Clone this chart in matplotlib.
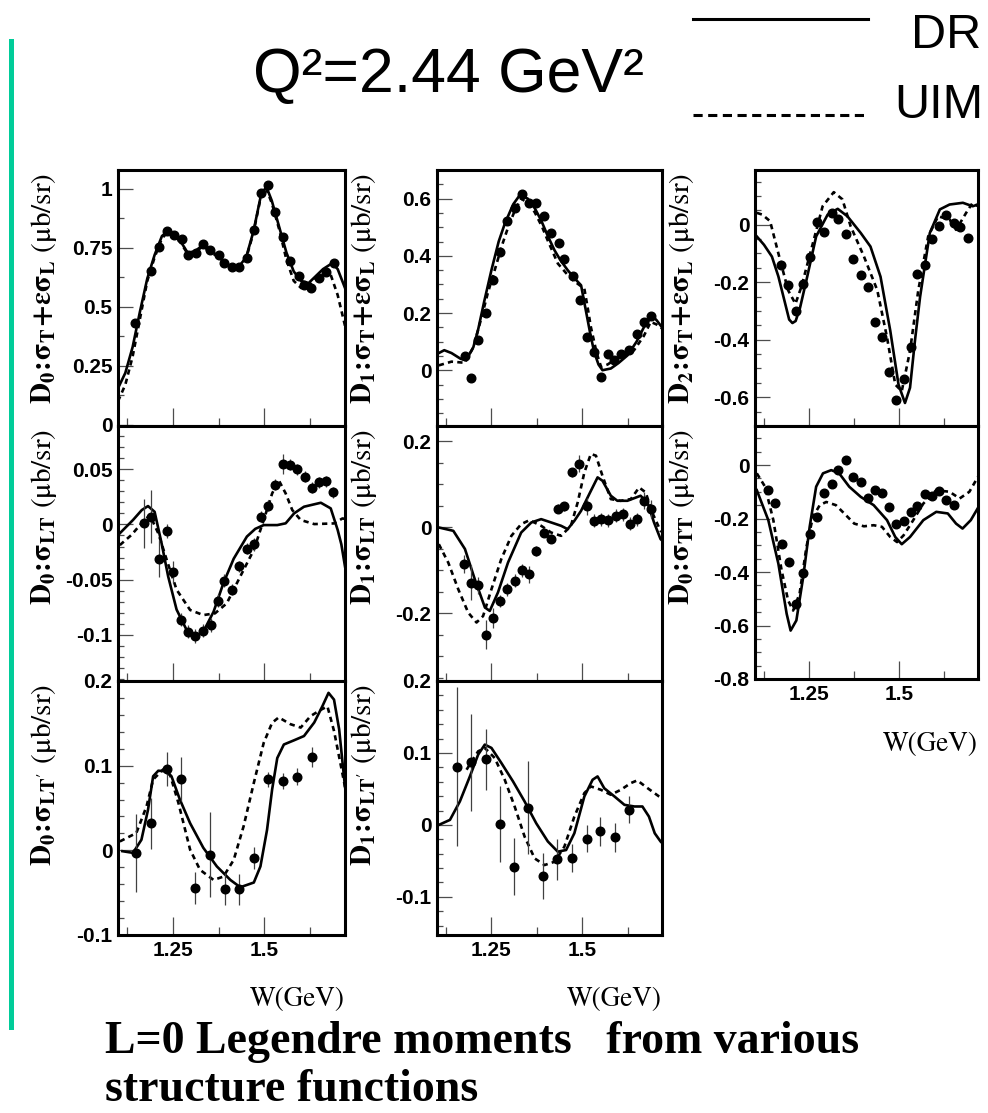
import matplotlib as mpl
mpl.use('Agg')
import matplotlib.pyplot as plt
from matplotlib.lines import Line2D
from matplotlib.patches import Rectangle
from matplotlib.ticker import MultipleLocator, FixedLocator, FuncFormatter

plt.rcParams['mathtext.fontset'] = 'stix'
plt.rcParams['axes.unicode_minus'] = False
plt.rcParams['font.family'] = ['Liberation Sans', 'DejaVu Sans']
plt.rcParams['font.weight'] = 'bold'

# ---- D0 : sigma_T + eps sigma_L
d0tl_w = [1.146, 1.191, 1.212, 1.233, 1.253, 1.274, 1.292, 1.312, 1.331, 1.352, 1.375, 1.390, 1.411, 1.431,
          1.451, 1.471, 1.491, 1.510, 1.530, 1.551, 1.571, 1.593, 1.608, 1.628, 1.649, 1.667, 1.689]
d0tl_y = [0.433, 0.652, 0.752, 0.821, 0.804, 0.786, 0.719, 0.730, 0.766, 0.740, 0.719, 0.687, 0.667, 0.670,
          0.709, 0.826, 0.984, 1.017, 0.904, 0.797, 0.695, 0.630, 0.591, 0.582, 0.624, 0.648, 0.687]
d0tl_dr_w = [1.10, 1.12, 1.14, 1.16, 1.18, 1.20, 1.22, 1.235, 1.25, 1.27, 1.29, 1.31, 1.33, 1.35, 1.37, 1.39, 1.41,
             1.43, 1.45, 1.47, 1.49, 1.505, 1.52, 1.54, 1.56, 1.58, 1.60, 1.62, 1.64, 1.66, 1.685, 1.70, 1.72]
d0tl_dr = [0.155, 0.22, 0.33, 0.48, 0.62, 0.72, 0.80, 0.82, 0.80, 0.78, 0.73, 0.735, 0.76, 0.74, 0.72, 0.69, 0.67,
           0.67, 0.71, 0.82, 0.97, 1.01, 0.95, 0.84, 0.73, 0.65, 0.61, 0.60, 0.63, 0.66, 0.685, 0.66, 0.58]
d0tl_uim_w = [1.10, 1.12, 1.14, 1.16, 1.18, 1.20, 1.22, 1.235, 1.25, 1.27, 1.29, 1.31, 1.33, 1.35, 1.37, 1.39, 1.41,
              1.43, 1.45, 1.47, 1.49, 1.505, 1.52, 1.54, 1.56, 1.58, 1.60, 1.62, 1.64, 1.66, 1.68, 1.70, 1.72]
d0tl_uim = [0.10, 0.17, 0.29, 0.45, 0.61, 0.71, 0.79, 0.815, 0.80, 0.775, 0.725, 0.73, 0.755, 0.735, 0.715, 0.685,
            0.665, 0.665, 0.705, 0.815, 0.965, 1.0, 0.94, 0.83, 0.70, 0.61, 0.58, 0.59, 0.62, 0.64, 0.64, 0.55, 0.42]

# ---- D1 : sigma_T + eps sigma_L
d1tl_w = [1.177, 1.193, 1.213, 1.235, 1.255, 1.273, 1.294, 1.314, 1.334, 1.353, 1.373, 1.394, 1.415, 1.435,
          1.451, 1.474, 1.494, 1.512, 1.533, 1.552, 1.570, 1.588, 1.608, 1.629, 1.650, 1.670, 1.691]
d1tl_y = [0.050, -0.026, 0.107, 0.200, 0.315, 0.414, 0.522, 0.567, 0.617, 0.586, 0.586, 0.539, 0.481, 0.445,
          0.390, 0.329, 0.247, 0.117, 0.064, -0.023, 0.055, 0.037, 0.056, 0.070, 0.128, 0.169, 0.190]
d1tl_dr_w = [1.105, 1.12, 1.14, 1.165, 1.18, 1.20, 1.213, 1.23, 1.25, 1.27, 1.287, 1.31, 1.328, 1.35, 1.37, 1.387,
             1.405, 1.424, 1.44, 1.46, 1.48, 1.497, 1.51, 1.522, 1.533, 1.545, 1.556, 1.579, 1.60, 1.625, 1.65,
             1.67, 1.693, 1.705, 1.72]
d1tl_dr = [0.06, 0.07, 0.06, 0.04, 0.035, 0.08, 0.14, 0.24, 0.35, 0.45, 0.513, 0.58, 0.612, 0.60, 0.565, 0.524,
           0.47, 0.419, 0.385, 0.35, 0.32, 0.297, 0.21, 0.13, 0.064, 0.02, 0.0, 0.006, 0.025, 0.052, 0.10,
           0.15, 0.19, 0.175, 0.15]
d1tl_uim_w = [1.105, 1.14, 1.177, 1.20, 1.223, 1.24, 1.259, 1.28, 1.296, 1.315, 1.332, 1.35, 1.369, 1.39, 1.405,
              1.433, 1.469, 1.506, 1.515, 1.524, 1.54, 1.552, 1.57, 1.588, 1.615, 1.643, 1.67, 1.689, 1.705, 1.72]
d1tl_uim = [0.017, 0.03, 0.026, 0.08, 0.186, 0.27, 0.35, 0.44, 0.50, 0.56, 0.60, 0.585, 0.553, 0.50, 0.454,
            0.373, 0.32, 0.285, 0.22, 0.151, 0.06, 0.012, 0.02, 0.035, 0.05, 0.07, 0.12, 0.169, 0.16, 0.146]

# ---- D2 : sigma_T + eps sigma_L
d2tl_w = [1.172, 1.192, 1.213, 1.234, 1.254, 1.273, 1.293, 1.313, 1.332, 1.353, 1.373, 1.394, 1.414, 1.433,
          1.453, 1.473, 1.493, 1.513, 1.533, 1.551, 1.572, 1.592, 1.612, 1.632, 1.652, 1.671, 1.691]
d2tl_y = [-0.140, -0.211, -0.301, -0.205, -0.113, 0.009, -0.026, 0.041, 0.018, -0.032, -0.120, -0.175, -0.216,
          -0.339, -0.389, -0.511, -0.611, -0.535, -0.427, -0.172, -0.140, -0.049, -0.004, 0.032, 0.006, -0.008,
          -0.047]
d2tl_dr_w = [1.105, 1.125, 1.147, 1.165, 1.183, 1.195, 1.204, 1.213, 1.225, 1.243, 1.27, 1.302, 1.33, 1.357, 1.394,
             1.421, 1.449, 1.476, 1.499, 1.517, 1.531, 1.545, 1.559, 1.586, 1.614, 1.641, 1.678, 1.705, 1.72]
d2tl_dr = [-0.041, -0.07, -0.111, -0.18, -0.27, -0.33, -0.342, -0.335, -0.29, -0.193, -0.041, 0.035, 0.055, 0.029,
           -0.029, -0.076, -0.181, -0.368, -0.556, -0.62, -0.567, -0.40, -0.251, -0.029, 0.053, 0.07, 0.076,
           0.064, 0.07]
d2tl_uim_w = [1.105, 1.12, 1.142, 1.165, 1.192, 1.2125, 1.229, 1.256, 1.288, 1.319, 1.343, 1.366, 1.403, 1.44,
              1.467, 1.49, 1.508, 1.531, 1.554, 1.5815, 1.609, 1.641, 1.659, 1.687, 1.705, 1.72]
d2tl_uim = [0.041, 0.035, 0.012, -0.10, -0.228, -0.275, -0.216, -0.088, 0.064, 0.113, 0.088, -0.006, -0.111,
            -0.228, -0.392, -0.556, -0.579, -0.439, -0.228, -0.041, 0.029, 0.018, -0.018, 0.041, 0.076, 0.064]

# ---- D0 : sigma_LT
d0lt_w = [1.170, 1.191, 1.213, 1.233, 1.251, 1.271, 1.292, 1.310, 1.331, 1.354, 1.372, 1.390, 1.411, 1.430,
          1.451, 1.471, 1.491, 1.510, 1.530, 1.551, 1.571, 1.590, 1.610, 1.629, 1.649, 1.669, 1.688]
d0lt_y = [0.001, 0.007, -0.031, -0.006, -0.043, -0.086, -0.097, -0.101, -0.096, -0.091, -0.069, -0.051, -0.059,
          -0.038, -0.022, -0.018, 0.007, 0.017, 0.036, 0.055, 0.054, 0.050, 0.043, 0.033, 0.038, 0.039, 0.029]
d0lt_err = [0.022, 0.024, 0.017, 0.006, 0.010, 0.006, 0.006, 0.006, 0.006, 0.006, 0.006, 0.006, 0.005, 0.005,
            0.005, 0.006, 0.005, 0.005, 0.005, 0.009, 0.005, 0.005, 0.005, 0.005, 0.005, 0.005, 0.005]
d0lt_dr_w = [1.105, 1.141, 1.165, 1.182, 1.20, 1.219, 1.237, 1.26, 1.2875, 1.31, 1.333, 1.361, 1.388, 1.416, 1.452,
             1.475, 1.498, 1.535, 1.558, 1.581, 1.608, 1.654, 1.681, 1.70, 1.71, 1.72]
d0lt_dr = [-0.008, 0.004, 0.013, 0.0166, 0.0114, -0.017, -0.047, -0.077, -0.0955, -0.1015, -0.097, -0.079, -0.053,
           -0.031, -0.011, -0.004, -0.0006, -0.0006, 0.001, 0.01, 0.016, 0.0196, 0.0145, -0.005, -0.018, -0.038]
d0lt_uim_w = [1.105, 1.1365, 1.164, 1.187, 1.21, 1.233, 1.26, 1.297, 1.333, 1.365, 1.397, 1.434, 1.471, 1.498,
              1.521, 1.539, 1.558, 1.576, 1.599, 1.636, 1.69, 1.713, 1.72]
d0lt_uim = [-0.0187, -0.0096, 0.0009, 0.0084, -0.008, -0.032, -0.059, -0.0774, -0.082, -0.0804, -0.0714, -0.047,
            -0.023, 0.004, 0.028, 0.040, 0.028, 0.013, 0.004, 0.0003, 0.0009, 0.0054, 0.005]

# ---- D1 : sigma_LT
d1lt_w = [1.174, 1.193, 1.213, 1.235, 1.255, 1.273, 1.294, 1.314, 1.334, 1.353, 1.373, 1.394, 1.415, 1.433,
          1.451, 1.472, 1.492, 1.512, 1.533, 1.552, 1.572, 1.593, 1.613, 1.632, 1.652, 1.670, 1.691]
d1lt_y = [-0.085, -0.128, -0.134, -0.249, -0.211, -0.171, -0.144, -0.124, -0.099, -0.109, -0.054, -0.012, -0.026,
          0.044, 0.049, 0.128, 0.148, 0.049, 0.016, 0.019, 0.017, 0.027, 0.031, 0.009, 0.019, 0.062, 0.043]
d1lt_err = [0.02, 0.04, 0.02, 0.033, 0.023, 0.015, 0.015, 0.015, 0.015, 0.02, 0.012, 0.01, 0.01, 0.01, 0.01,
            0.01, 0.02, 0.02, 0.015, 0.015, 0.015, 0.015, 0.015, 0.015, 0.015, 0.02, 0.02]
d1lt_dr_w = [1.105, 1.145, 1.177, 1.204, 1.232, 1.2454, 1.268, 1.2957, 1.332, 1.36, 1.387, 1.4145, 1.442, 1.46,
             1.4785, 1.497, 1.5196, 1.5425, 1.556, 1.579, 1.597, 1.6247, 1.661, 1.68, 1.698, 1.716, 1.72]
d1lt_dr = [0.0, -0.0078, -0.05, -0.12, -0.186, -0.194, -0.151, -0.0815, -0.0117, 0.0117, 0.0194, 0.0117, 0.0039,
           -0.0039, 0.0155, 0.0388, 0.0777, 0.1165, 0.1087, 0.0738, 0.0621, 0.0621, 0.0738, 0.058, 0.0117,
           -0.027, -0.03]
d1lt_uim_w = [1.105, 1.131, 1.1586, 1.186, 1.2089, 1.227, 1.25, 1.277, 1.305, 1.332, 1.355, 1.387, 1.4145, 1.442,
              1.469, 1.4877, 1.506, 1.524, 1.538, 1.556, 1.579, 1.606, 1.634, 1.657, 1.675, 1.693, 1.716, 1.72]
d1lt_uim = [-0.0388, -0.0816, -0.1437, -0.198, -0.221, -0.206, -0.1437, -0.0738, -0.0194, 0.0078, 0.0171, 0.0039,
            -0.0117, -0.0194, 0.0039, 0.0583, 0.128, 0.171, 0.167, 0.12, 0.066, 0.062, 0.066, 0.093, 0.0816,
            0.035, -0.0078, -0.01]

# ---- D0 : sigma_TT
d0tt_w = [1.135, 1.156, 1.174, 1.194, 1.213, 1.234, 1.254, 1.273, 1.293, 1.313, 1.332, 1.353, 1.373, 1.394,
          1.414, 1.433, 1.453, 1.473, 1.493, 1.513, 1.533, 1.551, 1.572, 1.592, 1.612, 1.632, 1.652]
d0tt_y = [-0.094, -0.141, -0.296, -0.363, -0.521, -0.404, -0.256, -0.194, -0.104, -0.069, -0.019, 0.019, -0.046,
          -0.063, -0.125, -0.094, -0.104, -0.156, -0.219, -0.21, -0.175, -0.153, -0.109, -0.116, -0.096, -0.131,
          -0.15]
d0tt_dr_w = [1.105, 1.137, 1.165, 1.188, 1.199, 1.215, 1.234, 1.252, 1.27, 1.289, 1.312, 1.334, 1.362, 1.394,
             1.43, 1.467, 1.49, 1.508, 1.531, 1.568, 1.604, 1.636, 1.659, 1.677, 1.70, 1.72]
d0tt_dr = [-0.094, -0.206, -0.369, -0.556, -0.619, -0.581, -0.419, -0.231, -0.081, -0.031, -0.019, -0.031, -0.081,
           -0.119, -0.15, -0.206, -0.269, -0.296, -0.269, -0.206, -0.175, -0.181, -0.219, -0.2375, -0.206, -0.16]
d0tt_uim_w = [1.105, 1.128, 1.151, 1.174, 1.192, 1.206, 1.224, 1.243, 1.261, 1.28, 1.298, 1.325, 1.348, 1.376,
              1.403, 1.43, 1.453, 1.476, 1.495, 1.513, 1.54, 1.568, 1.604, 1.641, 1.669, 1.696, 1.72]
d0tt_uim = [-0.031, -0.081, -0.206, -0.394, -0.506, -0.544, -0.481, -0.306, -0.194, -0.15, -0.138, -0.15, -0.181,
            -0.219, -0.229, -0.225, -0.231, -0.269, -0.288, -0.263, -0.206, -0.144, -0.094, -0.10, -0.125, -0.10,
            -0.044]

# ---- D0 : sigma_LT'
d0ltp_w = [1.150, 1.191, 1.233, 1.271, 1.310, 1.350, 1.391, 1.430, 1.471, 1.510, 1.550, 1.590, 1.629]
d0ltp_y = [-0.003, 0.032, 0.096, 0.084, -0.044, -0.005, -0.046, -0.046, -0.009, 0.084, 0.082, 0.087, 0.110]
d0ltp_err = [0.046, 0.03, 0.02, 0.026, 0.019, 0.05, 0.019, 0.018, 0.013, 0.009, 0.009, 0.01, 0.012]
d0ltp_dr_w = [1.112, 1.141, 1.164, 1.182, 1.196, 1.21, 1.228, 1.246, 1.269, 1.297, 1.333, 1.37, 1.407, 1.434,
              1.471, 1.489, 1.507, 1.521, 1.535, 1.553, 1.581, 1.608, 1.636, 1.658, 1.675, 1.69, 1.704, 1.72]
d0ltp_dr = [-0.001, -0.003, 0.0125, 0.048, 0.0875, 0.094, 0.0935, 0.0875, 0.06, 0.032, 0.003, -0.019, -0.035,
            -0.0436, -0.038, -0.019, 0.024, 0.072, 0.109, 0.125, 0.13, 0.135, 0.151, 0.170, 0.186, 0.178, 0.143,
            0.075]
d0ltp_uim_w = [1.105, 1.15, 1.178, 1.196, 1.223, 1.242, 1.265, 1.297, 1.324, 1.361, 1.388, 1.416, 1.443, 1.471,
               1.498, 1.521, 1.539, 1.571, 1.599, 1.626, 1.654, 1.672, 1.69, 1.709, 1.72]
d0ltp_uim = [0.0105, 0.0204, 0.052, 0.0836, 0.0955, 0.0895, 0.056, 0.0007, -0.023, -0.035, -0.031, -0.0113,
             0.0283, 0.0797, 0.127, 0.1507, 0.157, 0.149, 0.145, 0.1586, 0.166, 0.170, 0.141, 0.0994, 0.075]

# ---- D1 : sigma_LT'
d1ltp_w = [1.154, 1.193, 1.234, 1.273, 1.312, 1.352, 1.392, 1.431, 1.471, 1.512, 1.550, 1.591, 1.629]
d1ltp_y = [0.081, 0.087, 0.091, 0.001, -0.058, 0.024, -0.071, -0.048, -0.046, -0.019, -0.009, -0.017, 0.021]
d1ltp_err = [0.11, 0.067, 0.042, 0.053, 0.04, 0.065, 0.032, 0.029, 0.019, 0.019, 0.02, 0.02, 0.019]
d1ltp_dr_w = [1.105, 1.1357, 1.163, 1.1906, 1.2134, 1.2317, 1.25, 1.2774, 1.3094, 1.3414, 1.3734, 1.4054, 1.4328,
              1.4557, 1.4785, 1.506, 1.5288, 1.5425, 1.5608, 1.5891, 1.6165, 1.644, 1.666, 1.684, 1.70, 1.716,
              1.72]
d1ltp_dr = [0.0, 0.007, 0.0326, 0.0674, 0.0977, 0.1116, 0.107, 0.086, 0.0605, 0.0326, 0.0023, -0.023, -0.0372,
            -0.0349, -0.0116, 0.0395, 0.0628, 0.0674, 0.051, 0.0395, 0.0279, 0.0256, 0.0256, 0.0116, -0.0116,
            -0.023, -0.025]
d1ltp_uim_w = [1.1814, 1.2134, 1.2317, 1.259, 1.2866, 1.314, 1.3414, 1.369, 1.3963, 1.424, 1.451, 1.4785, 1.506,
               1.524, 1.5516, 1.579, 1.6065, 1.634, 1.652, 1.68, 1.712, 1.72]
d1ltp_uim = [0.0767, 0.1023, 0.107, 0.093, 0.0628, 0.0256, -0.0163, -0.0465, -0.0558, -0.0512, -0.0302, 0.0116,
             0.0442, 0.0535, 0.0488, 0.0419, 0.0488, 0.0581, 0.0619, 0.0512, 0.0395, 0.037]

x_major = [1.25, 1.5]
x_minor = [1.125, 1.375, 1.625]

W, H = 988, 1113


def fx(px):
    return px / W


def fy(py):
    return 1 - py / H


col_x = [(118, 345), (437, 662), (755, 978)]
row_y = [(170, 426), (426, 681), (681, 935)]

lab_tl = r'$\mathrm{D_{%d}\!:\!\sigma_T\!+\!\varepsilon\sigma_L}$ (μb/sr)'
panels = [
    (0, 0, lab_tl % 0, (-0.005, 1.08), 0.25, 0.125, d0tl_w, d0tl_y, None, d0tl_dr_w, d0tl_dr, d0tl_uim_w, d0tl_uim),
    (1, 0, lab_tl % 1, (-0.195, 0.70), 0.2, 0.05, d1tl_w, d1tl_y, None, d1tl_dr_w, d1tl_dr, d1tl_uim_w, d1tl_uim),
    (2, 0, lab_tl % 2, (-0.70, 0.19), 0.2, 0.05, d2tl_w, d2tl_y, None, d2tl_dr_w, d2tl_dr, d2tl_uim_w, d2tl_uim),
    (0, 1, r'$\mathrm{D_0\!:\!\sigma_{LT}}$ (μb/sr)', (-0.1416, 0.089), 0.05, 0.01,
     d0lt_w, d0lt_y, d0lt_err, d0lt_dr_w, d0lt_dr, d0lt_uim_w, d0lt_uim),
    (1, 1, r'$\mathrm{D_1\!:\!\sigma_{LT}}$ (μb/sr)', (-0.357, 0.236), 0.2, 0.05,
     d1lt_w, d1lt_y, d1lt_err, d1lt_dr_w, d1lt_dr, d1lt_uim_w, d1lt_uim),
    (2, 1, r'$\mathrm{D_0\!:\!\sigma_{TT}}$ (μb/sr)', (-0.8, 0.146), 0.2, 0.05,
     d0tt_w, d0tt_y, None, d0tt_dr_w, d0tt_dr, d0tt_uim_w, d0tt_uim),
    (0, 2, r'$\mathrm{D_0\!:\!\sigma_{LT^{\prime}}}$ (μb/sr)', (-0.1, 0.2), 0.1, 0.02,
     d0ltp_w, d0ltp_y, d0ltp_err, d0ltp_dr_w, d0ltp_dr, d0ltp_uim_w, d0ltp_uim),
    (1, 2, r'$\mathrm{D_1\!:\!\sigma_{LT^{\prime}}}$ (μb/sr)', (-0.153, 0.2), 0.1, 0.02,
     d1ltp_w, d1ltp_y, d1ltp_err, d1ltp_dr_w, d1ltp_dr, d1ltp_uim_w, d1ltp_uim),
]

fmt = FuncFormatter(lambda v, p: '0' if abs(v) < 1e-9 else '%g' % round(v, 4))

fig = plt.figure(figsize=(W / 100, H / 100), dpi=100)

for col, row, ylab, ylim, ymaj, ymin, w, y, err, drw, dr, uimw, uim in panels:
    x0, x1 = col_x[col]
    y0, y1 = row_y[row]
    if col == 2 and row == 1:
        y1 = 679
    ax = fig.add_axes([fx(x0), fy(y1), fx(x1) - fx(x0), fy(y0) - fy(y1)])
    ax.plot(drw, dr, color='k', lw=1.9, solid_joinstyle='round')
    ax.plot(uimw, uim, color='k', lw=1.9, ls=(0, (2.0, 1.6)))
    ax.errorbar(w, y, yerr=err, fmt='o', color='k', ms=6.2, ecolor='0.25', elinewidth=0.9, capsize=0)
    ax.set_xlim(1.1, 1.72)
    ax.set_ylim(*ylim)
    ax.xaxis.set_major_locator(FixedLocator(x_major))
    ax.xaxis.set_minor_locator(FixedLocator(x_minor))
    ax.yaxis.set_major_locator(MultipleLocator(ymaj))
    ax.yaxis.set_minor_locator(MultipleLocator(ymin))
    ax.xaxis.set_major_formatter(fmt)
    ax.yaxis.set_major_formatter(fmt)
    ax.tick_params(which='both', direction='in', top=False, right=False, color='0.3', width=0.9,
                   labelsize=15, pad=4)
    ax.tick_params(axis='y', which='major', length=10.5)
    ax.tick_params(axis='y', which='minor', length=4.5)
    ax.tick_params(axis='x', which='major', length=13)
    ax.tick_params(axis='x', which='minor', length=6)
    bottom = (row == 2) or (col == 2 and row == 1)
    if not bottom:
        ax.tick_params(labelbottom=False)
    for s in ax.spines.values():
        s.set_linewidth(2.2)
    ax.set_ylabel(ylab, fontsize=21, fontfamily='STIXGeneral', fontweight='normal', loc='top')
    ax.yaxis.set_label_coords(-0.258, 0.99)

# W(GeV) axis titles
for xr, yb in [(345, 1006), (662, 1006), (978, 751)]:
    fig.text(fx(xr), fy(yb), 'W(GeV)', ha='right', va='baseline', fontsize=19.5,
             fontfamily='STIXGeneral', fontweight='normal')

# title and model legend
fig.text(fx(448), fy(92), 'Q²=2.44 GeV²', ha='center', va='baseline', fontsize=45, fontweight='normal')
fig.add_artist(Line2D([fx(693), fx(868)], [fy(19), fy(19)], color='k', lw=2.2))
fig.add_artist(Line2D([fx(693), fx(868)], [fy(115), fy(115)], color='k', lw=2.2, ls=(0, (3.0, 1.8))))
fig.text(fx(981), fy(48), 'DR', ha='right', va='baseline', fontsize=35, fontweight='normal')
fig.text(fx(983), fy(118), 'UIM', ha='right', va='baseline', fontsize=35, fontweight='normal')

# slide decoration and caption
fig.add_artist(Rectangle((fx(9), fy(1030)), fx(5), fy(39) - fy(1030), color='#00cc99', lw=0))
fig.text(fx(105), fy(1053), 'L=0 Legendre moments   from various', ha='left', va='baseline',
         fontsize=33, fontfamily='Liberation Serif', fontweight='bold')
fig.text(fx(105), fy(1101), 'structure functions', ha='left', va='baseline',
         fontsize=33, fontfamily='Liberation Serif', fontweight='bold')

fig.savefig('out.png', dpi=100)
